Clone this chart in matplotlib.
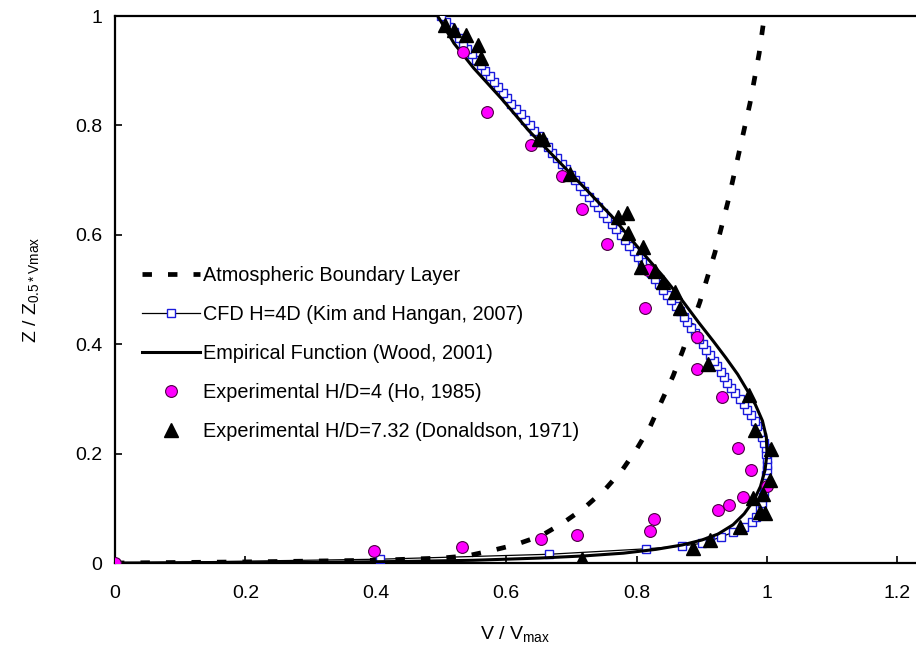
import matplotlib
matplotlib.use("Agg")
import matplotlib.pyplot as plt

plt.rcParams['font.family'] = ['Liberation Sans', 'DejaVu Sans']

# Atmospheric boundary layer (dashed)
abl_x = [0.0, 0.20, 0.40, 0.50, 0.54, 0.575, 0.613, 0.654, 0.688, 0.719, 0.752, 0.778,
         0.800, 0.821, 0.838, 0.856, 0.871, 0.897, 0.920, 0.940, 0.957, 0.974, 0.988, 0.996]
abl_y = [0.0, 0.002, 0.005, 0.009, 0.013, 0.022, 0.033, 0.050, 0.074, 0.100, 0.135, 0.170,
         0.208, 0.250, 0.295, 0.342, 0.389, 0.477, 0.567, 0.660, 0.750, 0.841, 0.932, 1.0]

# CFD H=4D (Kim and Hangan, 2007)
cfd_x = [0.0, 0.407, 0.666, 0.815, 0.870, 0.900, 0.912, 0.930, 0.948, 0.965, 0.977, 0.983,
         0.989, 0.992, 0.994, 0.996, 0.997, 0.998, 0.999, 1.000, 1.000, 1.000, 0.999, 0.998,
         0.995, 0.992, 0.989, 0.985, 0.981, 0.976, 0.970, 0.964, 0.958, 0.951, 0.945, 0.939,
         0.934, 0.929, 0.924, 0.918, 0.913, 0.907, 0.902, 0.896, 0.890, 0.884, 0.878, 0.872,
         0.866, 0.860, 0.853, 0.847, 0.841, 0.835, 0.828, 0.822, 0.815, 0.809, 0.802, 0.796,
         0.789, 0.782, 0.776, 0.769, 0.762, 0.755, 0.748, 0.741, 0.734, 0.727, 0.720, 0.713,
         0.706, 0.699, 0.692, 0.685, 0.678, 0.671, 0.664, 0.657, 0.650, 0.643, 0.636, 0.629,
         0.622, 0.615, 0.608, 0.602, 0.595, 0.588, 0.581, 0.575, 0.568, 0.561, 0.554, 0.547,
         0.540, 0.534, 0.527, 0.520, 0.513, 0.507, 0.500]
cfd_y = [0.0, 0.007, 0.016, 0.026, 0.031, 0.036, 0.040, 0.048, 0.056, 0.065, 0.075, 0.085,
         0.100, 0.110, 0.120, 0.130, 0.140, 0.150, 0.160, 0.170, 0.180, 0.190, 0.200, 0.210,
         0.220, 0.230, 0.240, 0.250, 0.260, 0.270, 0.280, 0.290, 0.300, 0.310, 0.320, 0.330,
         0.340, 0.350, 0.360, 0.370, 0.380, 0.390, 0.400, 0.410, 0.420, 0.430, 0.440, 0.450,
         0.460, 0.470, 0.480, 0.490, 0.500, 0.510, 0.520, 0.530, 0.540, 0.550, 0.560, 0.570,
         0.580, 0.590, 0.600, 0.610, 0.620, 0.630, 0.640, 0.650, 0.660, 0.670, 0.680, 0.690,
         0.700, 0.710, 0.720, 0.730, 0.740, 0.750, 0.760, 0.770, 0.780, 0.790, 0.800, 0.810,
         0.820, 0.830, 0.840, 0.850, 0.860, 0.870, 0.880, 0.890, 0.900, 0.910, 0.920, 0.930,
         0.940, 0.950, 0.960, 0.970, 0.980, 0.990, 1.000]

# Empirical function (Wood, 2001)
emp_x = [0.0, 0.30, 0.45, 0.55, 0.65, 0.72, 0.78, 0.83, 0.87, 0.90, 0.925, 0.948, 0.965,
         0.980, 0.990, 0.997, 1.000, 0.999, 0.993, 0.982, 0.970, 0.955, 0.937, 0.918, 0.895,
         0.870, 0.840, 0.800, 0.765, 0.725, 0.680, 0.635, 0.592, 0.550, 0.520, 0.500, 0.495]
emp_y = [0.0, 0.001, 0.003, 0.005, 0.009, 0.013, 0.018, 0.025, 0.033, 0.042, 0.053, 0.070,
         0.090, 0.115, 0.140, 0.170, 0.200, 0.230, 0.260, 0.290, 0.315, 0.345, 0.375, 0.405,
         0.440, 0.480, 0.525, 0.580, 0.630, 0.680, 0.735, 0.790, 0.850, 0.905, 0.950, 0.990, 1.0]

# Experimental H/D=4 (Ho, 1985)
ho_x = [0.0, 0.397, 0.532, 0.654, 0.708, 0.820, 0.827, 0.925, 0.942, 0.963, 1.000, 0.975,
        0.955, 0.931, 0.893, 0.893, 0.813, 0.818, 0.754, 0.716, 0.686, 0.638, 0.570, 0.534]
ho_y = [0.0, 0.022, 0.029, 0.044, 0.052, 0.059, 0.081, 0.097, 0.106, 0.120, 0.140, 0.170,
        0.210, 0.304, 0.355, 0.413, 0.467, 0.536, 0.584, 0.648, 0.708, 0.765, 0.824, 0.935]

# Experimental H/D=7.32 (Donaldson, 1971)
don_x = [0.717, 0.886, 0.913, 0.958, 0.989, 0.997, 0.979, 0.994, 1.005, 1.006, 0.981, 0.973,
         0.910, 0.867, 0.859, 0.841, 0.828, 0.807, 0.810, 0.787, 0.772, 0.785, 0.698, 0.657,
         0.650, 0.562, 0.557, 0.538, 0.520, 0.506]
don_y = [0.007, 0.027, 0.042, 0.066, 0.094, 0.091, 0.118, 0.126, 0.152, 0.208, 0.244, 0.307,
         0.364, 0.466, 0.496, 0.514, 0.533, 0.541, 0.578, 0.603, 0.633, 0.640, 0.712, 0.776,
         0.775, 0.923, 0.947, 0.965, 0.974, 0.984]

fig = plt.figure(figsize=(9.16, 6.49), dpi=100)
ax = fig.add_axes([0.1255, 0.1325, 0.8745, 0.8428])

ax.plot(abl_x, abl_y, color='black', lw=3.4, linestyle=(0, (2.0, 3.4)),
        label='Atmospheric Boundary Layer', zorder=2)
ax.plot(cfd_x, cfd_y, color='black', lw=0.9, marker='s', markersize=6,
        markerfacecolor='white', markeredgecolor='#1a1adc', markeredgewidth=1.0,
        label='CFD H=4D (Kim and Hangan, 2007)', zorder=3)
ax.plot(emp_x, emp_y, color='black', lw=2.2, label='Empirical Function (Wood, 2001)', zorder=4)
ax.plot(ho_x, ho_y, linestyle='none', marker='o', markersize=8.5, markerfacecolor='#ff00ff',
        markeredgecolor='#4a0040', markeredgewidth=0.8,
        label='Experimental H/D=4 (Ho, 1985)', zorder=5)
ax.plot(don_x, don_y, linestyle='none', marker='^', markersize=9.5, color='black',
        label='Experimental H/D=7.32 (Donaldson, 1971)', zorder=6)

ax.set_xlim(0, 1.2285)
ax.set_ylim(0, 1)
ax.set_xticks([0, 0.2, 0.4, 0.6, 0.8, 1.0, 1.2])
ax.set_xticklabels(['0', '0.2', '0.4', '0.6', '0.8', '1', '1.2'])
ax.set_yticks([0, 0.2, 0.4, 0.6, 0.8, 1.0])
ax.set_yticklabels(['0', '0.2', '0.4', '0.6', '0.8', '1'])
ax.tick_params(direction='in', length=5, width=1.2, labelsize=14)
ax.tick_params(axis='x', pad=16)
ax.tick_params(axis='y', pad=9)
ax.spines['right'].set_visible(False)
for s in ['left', 'bottom', 'top']:
    ax.spines[s].set_linewidth(1.6)

ax.set_xlabel('V / V$_{\\mathregular{max}}$', fontsize=14, labelpad=16)
ax.set_ylabel('Z / Z$_{\\mathregular{0.5*Vmax}}$', fontsize=14, labelpad=24)

ax.legend(loc='upper left', bbox_to_anchor=(0.012, 0.575), frameon=False, fontsize=14.3,
          handlelength=2.9, handletextpad=0.15, labelspacing=1.0, numpoints=1)

fig.savefig('out.png', dpi=100)
